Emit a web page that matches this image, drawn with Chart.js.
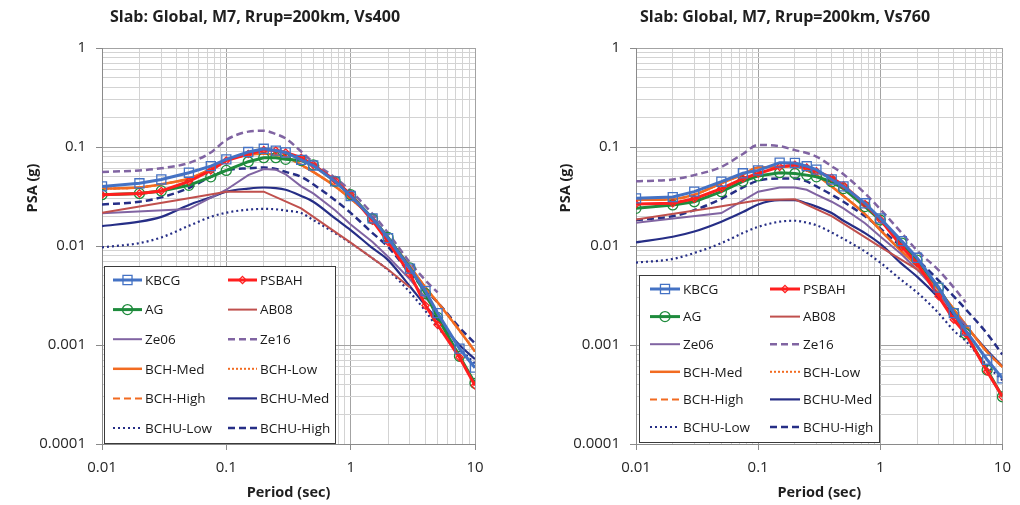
<!DOCTYPE html>
<html>
<head>
<meta charset="utf-8">
<script src="https://cdn.jsdelivr.net/npm/chart.js@4.4.1/dist/chart.umd.min.js"></script>
<style>
  html, body { margin: 0; padding: 0; background: #fff; }
  #wrap { position: relative; width: 1020px; height: 505px; }
  .panel { position: absolute; top: 0; width: 510px; height: 505px; }
</style>
</head>
<body>
<div id="wrap">
  <div class="panel" style="left:0"><canvas id="c400"></canvas></div>
  <div class="panel" style="left:510px"><canvas id="c760"></canvas></div>
</div>
<script>
// --- periods (sec) ---
const periods = [0.01, 0.02, 0.03, 0.05, 0.075, 0.1, 0.15, 0.2, 0.25, 0.3, 0.4, 0.5, 0.75, 1, 1.5, 2, 3, 4, 5, 7.5, 10];
const periodsAB08 = [0.01, 0.04, 0.1, 0.2, 0.4, 1, 2, 3];
const periodsZe06 = [0.01, 0.05, 0.1, 0.15, 0.2, 0.25, 0.3, 0.4, 0.5, 0.75, 1, 1.5, 2, 3, 4, 5];
const periodsZe16 = [0.01, 0.02, 0.03, 0.05, 0.075, 0.1, 0.15, 0.2, 0.25, 0.3, 0.4, 0.5, 0.75, 1, 1.5, 2, 3, 4, 5];

// --- axis labels ---
const xTickLabels = ['0.01', '0.1', '1', '10'];
const yTickLabels = ['0.0001', '0.001', '0.01', '0.1', '1'];
const seriesNames = ['KBCG', 'PSBAH', 'AG', 'AB08', 'Ze06', 'Ze16', 'BCH-Med', 'BCH-Low', 'BCH-High', 'BCHU-Med', 'BCHU-Low', 'BCHU-High'];

// --- Vs400 (PSA, g) ---
const kbcg400 = [0.040, 0.043, 0.047, 0.055, 0.064, 0.075, 0.089, 0.096, 0.092, 0.088, 0.074, 0.065, 0.045, 0.032, 0.019, 0.012, 0.0059, 0.0035, 0.0021, 0.00092, 0.00059];
const psbah400 = [0.033, 0.034, 0.036, 0.045, 0.058, 0.073, 0.085, 0.093, 0.092, 0.088, 0.078, 0.066, 0.046, 0.033, 0.018, 0.011, 0.0052, 0.0025, 0.0016, 0.00075, 0.00039];
const ag400 = [0.033, 0.034, 0.036, 0.041, 0.050, 0.058, 0.071, 0.078, 0.078, 0.075, 0.073, 0.066, 0.045, 0.033, 0.0188, 0.0122, 0.0060, 0.0033, 0.0019, 0.00077, 0.00041];
const ab08_400 = [0.0217, 0.029, 0.0354, 0.0354, 0.024, 0.0108, 0.0058, 0.0038];
const ze06_400 = [0.0214, 0.0236, 0.037, 0.052, 0.060, 0.059, 0.053, 0.040, 0.034, 0.023, 0.0165, 0.011, 0.0078, 0.0046, 0.0030, 0.0022];
const ze16_400 = [0.056, 0.058, 0.061, 0.069, 0.088, 0.118, 0.143, 0.146, 0.135, 0.122, 0.090, 0.070, 0.049, 0.036, 0.021, 0.0135, 0.0068, 0.0045, 0.0034];
const bchMed400 = [0.038, 0.039, 0.042, 0.048, 0.060, 0.074, 0.083, 0.086, 0.083, 0.080, 0.066, 0.056, 0.040, 0.030, 0.019, 0.012, 0.0062, 0.0038, 0.0027, 0.0014, 0.00086];
const bchLow400 = [0.038, 0.039, 0.042, 0.048, 0.060, 0.074, 0.083, 0.086, 0.083, 0.080, 0.066, 0.056, 0.040, 0.030, 0.019, 0.012, 0.0062, 0.0038, 0.0027, 0.0014, 0.00086];
const bchHigh400 = [0.038, 0.039, 0.042, 0.048, 0.060, 0.074, 0.083, 0.086, 0.083, 0.080, 0.066, 0.056, 0.040, 0.030, 0.019, 0.012, 0.0062, 0.0038, 0.0027, 0.0014, 0.00086];
const bchuMed400 = [0.0159, 0.0176, 0.0197, 0.026, 0.031, 0.0354, 0.038, 0.039, 0.0385, 0.037, 0.032, 0.028, 0.019, 0.0145, 0.0095, 0.0072, 0.0039, 0.0025, 0.0018, 0.0010, 0.00072];
const bchuLow400 = [0.0097, 0.0107, 0.0122, 0.016, 0.0197, 0.0217, 0.0233, 0.0237, 0.0235, 0.0228, 0.0215, 0.0183, 0.0135, 0.0107, 0.0075, 0.0057, 0.0034, 0.0022, 0.0015, 0.00092, 0.00065];
const bchuHigh400 = [0.0263, 0.028, 0.031, 0.0385, 0.050, 0.058, 0.061, 0.062, 0.060, 0.056, 0.050, 0.042, 0.029, 0.0216, 0.0135, 0.0098, 0.0053, 0.0036, 0.0027, 0.0015, 0.00104];

// --- Vs760 (PSA, g) ---
const kbcg760 = [0.0303, 0.0312, 0.0354, 0.0446, 0.0543, 0.058, 0.0695, 0.069, 0.064, 0.059, 0.047, 0.040, 0.027, 0.019, 0.0112, 0.0076, 0.0038, 0.0021, 0.0014, 0.00071, 0.00046];
const psbah760 = [0.0265, 0.027, 0.030, 0.038, 0.048, 0.054, 0.063, 0.066, 0.062, 0.057, 0.049, 0.041, 0.0265, 0.0185, 0.0098, 0.0067, 0.0031, 0.0018, 0.0013, 0.00054, 0.00030];
const ag760 = [0.024, 0.026, 0.028, 0.0354, 0.045, 0.051, 0.055, 0.054, 0.052, 0.050, 0.0446, 0.038, 0.025, 0.0183, 0.0107, 0.0072, 0.0038, 0.0021, 0.0013, 0.00056, 0.00030];
const ab08_760 = [0.0185, 0.024, 0.029, 0.0296, 0.020, 0.0098, 0.0058, 0.0039];
const ze06_760 = [0.0172, 0.0215, 0.0354, 0.039, 0.039, 0.037, 0.033, 0.028, 0.024, 0.017, 0.0125, 0.0082, 0.0058, 0.0033, 0.0021, 0.0016];
const ze16_760 = [0.045, 0.047, 0.052, 0.063, 0.085, 0.105, 0.102, 0.093, 0.087, 0.080, 0.064, 0.053, 0.034, 0.0235, 0.0135, 0.0090, 0.0057, 0.0038, 0.0027];
const bchMed760 = [0.0292, 0.0297, 0.033, 0.043, 0.053, 0.062, 0.063, 0.064, 0.058, 0.052, 0.040, 0.032, 0.021, 0.0145, 0.0088, 0.0063, 0.0036, 0.0023, 0.0016, 0.00085, 0.00060];
const bchLow760 = [0.0292, 0.0297, 0.033, 0.043, 0.053, 0.062, 0.063, 0.064, 0.058, 0.052, 0.040, 0.032, 0.021, 0.0145, 0.0088, 0.0063, 0.0036, 0.0023, 0.0016, 0.00085, 0.00060];
const bchHigh760 = [0.0292, 0.0297, 0.033, 0.043, 0.053, 0.062, 0.063, 0.064, 0.058, 0.052, 0.040, 0.032, 0.021, 0.0145, 0.0088, 0.0063, 0.0036, 0.0023, 0.0016, 0.00085, 0.00060];
const bchuMed760 = [0.0109, 0.0124, 0.014, 0.0176, 0.022, 0.0263, 0.029, 0.029, 0.027, 0.025, 0.0215, 0.018, 0.0135, 0.0105, 0.0066, 0.0049, 0.0030, 0.0020, 0.00155, 0.00088, 0.00061];
const bchuLow760 = [0.0068, 0.0074, 0.0085, 0.0107, 0.0135, 0.0156, 0.0176, 0.018, 0.0172, 0.0162, 0.0137, 0.0118, 0.0088, 0.0068, 0.0045, 0.0034, 0.0021, 0.0014, 0.0011, 0.00062, 0.00044];
const bchuHigh760 = [0.0183, 0.020, 0.023, 0.030, 0.039, 0.0457, 0.048, 0.048, 0.045, 0.040, 0.033, 0.028, 0.020, 0.015, 0.0098, 0.0073, 0.0045, 0.0031, 0.0023, 0.0013, 0.00080];

// line styles, in legend order
const styles = [
  { color: '#4472C4', width: 3, marker: 'rect', radius: 6.4 },
  { color: '#FF1F1F', width: 3, marker: 'rectRot', radius: 3.6 },
  { color: '#1E8B3C', width: 3, marker: 'circle', radius: 5 },
  { color: '#C0504D', width: 2 },
  { color: '#8064A2', width: 2 },
  { color: '#8064A2', width: 2.5, dash: [7, 4] },
  { color: '#F26B21', width: 2.5 },
  { color: '#F26B21', width: 2, dash: [2, 2] },
  { color: '#F26B21', width: 2, dash: [7, 4] },
  { color: '#262E86', width: 2.2 },
  { color: '#262E86', width: 2.2, dash: [2, 3] },
  { color: '#262E86', width: 2.5, dash: [7, 4] }
];
const smooth = ['Ze16', 'BCH-Med', 'BCH-Low', 'BCH-High', 'BCHU-Med', 'BCHU-Low', 'BCHU-High'];

function pts(xs, ys) {
  return ys.map((y, i) => ({ x: xs[i], y: y }));
}

function isDecade(v) {
  const l = Math.log10(v);
  return Math.abs(l - Math.round(l)) < 1e-6;
}

// 1..9 x 10^n grid between two decade labels
function gridValues(labels) {
  const lo = Math.round(Math.log10(Number(labels[0])));
  const hi = Math.round(Math.log10(Number(labels[labels.length - 1])));
  const out = [];
  for (let e = lo; e < hi; e++) {
    for (let m = 1; m < 10; m++) out.push(Number((m * Math.pow(10, e)).toPrecision(6)));
  }
  out.push(Number(labels[labels.length - 1]));
  return out;
}

function makeDatasets(series) {
  return series.map((s, i) => {
    const st = styles[i];
    return {
      label: seriesNames[i],
      data: pts(s[0], s[1]),
      showLine: true,
      borderColor: st.color,
      borderWidth: st.width,
      borderDash: st.dash || [],
      backgroundColor: 'rgba(0,0,0,0)',
      pointStyle: st.marker || 'circle',
      pointRadius: st.marker ? st.radius : 0,
      pointBorderWidth: 1.3,
      pointBorderColor: st.color,
      pointBackgroundColor: 'rgba(0,0,0,0)',
      cubicInterpolationMode: smooth.includes(seriesNames[i]) ? 'monotone' : 'default',
      tension: 0
    };
  });
}

// title, y title and boxed legend drawn at fixed spots
const panelText = {
  id: 'panelText',
  afterDatasetsDraw(chart, args, o) {
    const ctx = chart.ctx;
    ctx.save();
    // legend box
    const L = o.legend;
    ctx.fillStyle = '#fff';
    ctx.fillRect(L.x, L.y, L.w, L.h);
    ctx.strokeStyle = '#3a3a3a';
    ctx.lineWidth = 1;
    ctx.strokeRect(L.x + 0.5, L.y + 0.5, L.w, L.h);
    ctx.font = '13.5px "Open Sans", sans-serif';
    ctx.textBaseline = 'middle';
    ctx.textAlign = 'left';
    chart.data.datasets.forEach((ds, i) => {
      const col = i % 2, row = Math.floor(i / 2);
      const x0 = L.x + L.cols[col];
      const y0 = L.y + L.row0 + row * L.rowGap;
      ctx.strokeStyle = ds.borderColor;
      ctx.lineWidth = ds.borderWidth;
      ctx.setLineDash(ds.borderDash);
      ctx.beginPath();
      ctx.moveTo(x0, y0);
      ctx.lineTo(x0 + L.sample, y0);
      ctx.stroke();
      ctx.setLineDash([]);
      if (ds.pointRadius > 0) {
        const cx = x0 + L.sample / 2, r = ds.pointRadius;
        ctx.lineWidth = 1.3;
        ctx.beginPath();
        if (ds.pointStyle === 'rect') {
          const h = r * Math.SQRT1_2;
          ctx.rect(cx - h, y0 - h, 2 * h, 2 * h);
        } else if (ds.pointStyle === 'rectRot') {
          ctx.moveTo(cx, y0 - r); ctx.lineTo(cx + r, y0); ctx.lineTo(cx, y0 + r); ctx.lineTo(cx - r, y0); ctx.closePath();
        } else {
          ctx.arc(cx, y0, r, 0, Math.PI * 2);
        }
        ctx.stroke();
      }
      ctx.fillStyle = '#1a1a1a';
      ctx.fillText(ds.label, x0 + L.sample + 3, y0 + 1);
    });
    ctx.restore();
  },
  afterDraw(chart, args, o) {
    const ctx = chart.ctx;
    ctx.save();
    ctx.fillStyle = '#1f1f1f';
    ctx.textAlign = 'center';
    ctx.textBaseline = 'middle';
    ctx.font = 'bold 16px "Open Sans", sans-serif';
    ctx.fillText(o.title, o.titleX, 17);
    ctx.translate(o.yTitleX, o.yTitleY);
    ctx.rotate(-Math.PI / 2);
    ctx.font = 'bold 14.5px "Open Sans", sans-serif';
    ctx.fillText('PSA (g)', 0, 0);
    ctx.restore();
  }
};

function makeChart(id, title, series, geo) {
  const tickFont = { family: '"Open Sans", sans-serif', size: 15 };
  const gridColor = c => (c.tick && isDecade(c.tick.value)) ? '#A3A3A3' : '#D3D3D3';
  const tickColor = c => (c.tick && isDecade(c.tick.value)) ? '#8A8A8A' : 'rgba(0,0,0,0)';
  return new Chart(document.getElementById(id), {
    type: 'scatter',
    data: { datasets: makeDatasets(series) },
    plugins: [panelText],
    options: {
      responsive: true,
      maintainAspectRatio: false,
      animation: false,
      devicePixelRatio: 1,
      layout: { padding: { top: 48, right: geo.right, left: 0, bottom: 0 } },
      plugins: {
        legend: { display: false },
        tooltip: { enabled: false },
        panelText: { title: title, titleX: geo.titleX, yTitleX: geo.yTitleX, yTitleY: 188, legend: geo.legend }
      },
      scales: {
        x: {
          type: 'logarithmic',
          min: Number(xTickLabels[0]),
          max: Number(xTickLabels[xTickLabels.length - 1]),
          afterBuildTicks: s => { s.ticks = gridValues(xTickLabels).map(v => ({ value: v, major: isDecade(v) })); },
          afterFit: s => { s.height = 61; },
          ticks: {
            autoSkip: false, maxRotation: 0, padding: 9, color: '#262626', font: tickFont,
            callback: v => xTickLabels.find(t => Math.abs(Number(t) - v) < v * 1e-6) || ''
          },
          grid: { color: gridColor, tickColor: tickColor, tickLength: 6, lineWidth: 1 },
          border: { color: '#8A8A8A' },
          title: { display: true, text: 'Period (sec)', color: '#1f1f1f', font: { family: '"Open Sans", sans-serif', size: 14.5, weight: 'bold' }, padding: { top: 0, bottom: 3 } }
        },
        y: {
          type: 'logarithmic',
          min: Number(yTickLabels[0]),
          max: Number(yTickLabels[yTickLabels.length - 1]),
          afterBuildTicks: s => { s.ticks = gridValues(yTickLabels).map(v => ({ value: v, major: isDecade(v) })); },
          afterFit: s => { s.width = geo.left; },
          ticks: {
            autoSkip: false, padding: 10, color: '#262626', font: tickFont,
            callback: v => yTickLabels.find(t => Math.abs(Number(t) - v) < v * 1e-6) || ''
          },
          grid: { color: gridColor, tickColor: tickColor, tickLength: 6, lineWidth: 1 },
          border: { color: '#8A8A8A' }
        }
      }
    }
  });
}

makeChart('c400', 'Slab: Global, M7, Rrup=200km, Vs400', [
  [periods, kbcg400], [periods, psbah400], [periods, ag400], [periodsAB08, ab08_400],
  [periodsZe06, ze06_400], [periodsZe16, ze16_400], [periods, bchMed400], [periods, bchLow400],
  [periods, bchHigh400], [periods, bchuMed400], [periods, bchuLow400], [periods, bchuHigh400]
], {
  left: 102, right: 35, titleX: 255, yTitleX: 33,
  legend: { x: 104, y: 266, w: 231, h: 177, cols: [9, 124], row0: 14, rowGap: 29.6, sample: 29 }
});

makeChart('c760', 'Slab: Global, M7, Rrup=200km, Vs760', [
  [periods, kbcg760], [periods, psbah760], [periods, ag760], [periodsAB08, ab08_760],
  [periodsZe06, ze06_760], [periodsZe16, ze16_760], [periods, bchMed760], [periods, bchLow760],
  [periods, bchHigh760], [periods, bchuMed760], [periods, bchuLow760], [periods, bchuHigh760]
], {
  left: 126, right: 12, titleX: 275, yTitleX: 56,
  legend: { x: 129, y: 275, w: 240, h: 167, cols: [11, 131], row0: 14, rowGap: 27.6, sample: 30 }
});
</script>
</body>
</html>
